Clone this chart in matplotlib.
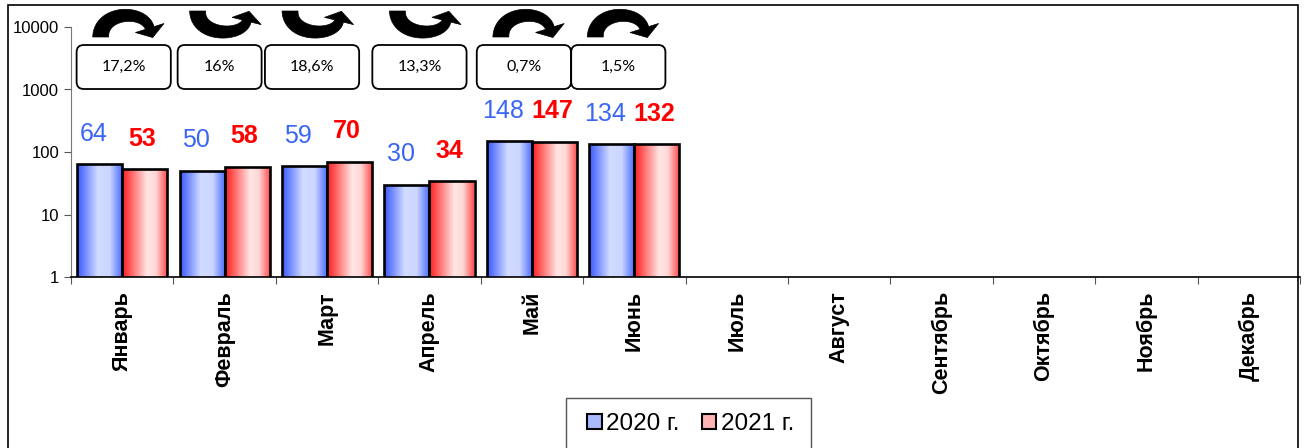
import numpy as np
import matplotlib
matplotlib.use('Agg')
import matplotlib.pyplot as plt
from matplotlib.colors import LinearSegmentedColormap
from matplotlib.patches import FancyBboxPatch, Patch, Rectangle, Polygon
from matplotlib.transforms import IdentityTransform
from matplotlib.ticker import NullLocator

plt.rcParams['font.family'] = ['Liberation Sans', 'DejaVu Sans']

# Данные
months = ['Январь', 'Февраль', 'Март', 'Апрель', 'Май', 'Июнь',
          'Июль', 'Август', 'Сентябрь', 'Октябрь', 'Ноябрь', 'Декабрь']
vals_2020 = [64, 50, 59, 30, 148, 134]
vals_2021 = [53, 58, 70, 34, 147, 132]
changes = ['17,2%', '16%', '18,6%', '13,3%', '0,7%', '1,5%']
series_names = ['2020 г.', '2021 г.']

# сдвиг рамок относительно центра месяца (px), как в исходнике
box_nudge = [1.5, -5, -15, -10, -8, -16]

W, H = 1306, 448

# Градиенты заливки столбцов
blue_cmap = LinearSegmentedColormap.from_list('b', [
    (0.0, (0.24, 0.36, 1.0)), (0.45, (0.82, 0.86, 1.0)),
    (0.72, (0.80, 0.84, 1.0)), (1.0, (0.30, 0.43, 1.0))])
red_cmap = LinearSegmentedColormap.from_list('r', [
    (0.0, (1.0, 0.13, 0.13)), (0.55, (1.0, 0.90, 0.90)),
    (0.75, (1.0, 0.84, 0.84)), (1.0, (1.0, 0.30, 0.30))])
grad = np.linspace(0, 1, 64).reshape(1, -1)

fig = plt.figure(figsize=(W / 100, H / 100), dpi=100)
ax = fig.add_axes([71 / W, 1 - 277 / H, 1229 / W, 250 / H])
ax.set_yscale('log')

w = 0.44
x = np.arange(len(vals_2020))
for xs, vals, cmap in [(x - w / 2, vals_2020, blue_cmap), (x + w / 2, vals_2021, red_cmap)]:
    bars = ax.bar(xs, vals, width=w, bottom=0, facecolor='none', edgecolor='black',
                  linewidth=1.9, zorder=3)
    for b in bars:
        im = ax.imshow(grad, cmap=cmap, aspect='auto', zorder=2,
                       extent=[b.get_x(), b.get_x() + b.get_width(), 1, b.get_height()])
        im.set_clip_path(b)

# Подписи значений
for i in range(len(vals_2020)):
    ax.annotate(str(vals_2020[i]), (x[i] - w / 2, vals_2020[i]), xytext=(-4.5, 22),
                textcoords='offset points', ha='center', va='center',
                fontsize=18, color='#3A66F5', zorder=5)
    ax.annotate(str(vals_2021[i]), (x[i] + w / 2, vals_2021[i]), xytext=(-1.8, 22),
                textcoords='offset points', ha='center', va='center',
                fontsize=18, fontweight='bold', color='#FF0000', zorder=5)

# Оси
ax.set_xlim(-0.5, len(months) - 0.5)
ax.set_ylim(1, 10000)
ax.set_xticks(np.arange(len(months) + 1) - 0.5)
ax.set_xticklabels([])
ax.set_xticks(np.arange(len(months)), minor=True)
ax.set_xticklabels(months, minor=True, rotation=90, fontsize=15.5, fontweight='bold')
ax.tick_params(axis='x', which='major', length=5, color='#555555')
ax.tick_params(axis='x', which='minor', length=0, pad=10)
ax.set_yticks([1, 10, 100, 1000, 10000])
ax.set_yticklabels(['1', '10', '100', '1000', '10000'])
ax.yaxis.set_minor_locator(NullLocator())
ax.tick_params(axis='y', length=5, labelsize=12, color='#555555')
ax.spines[['top', 'right']].set_visible(False)
ax.spines['left'].set_color('#777777')
ax.spines['bottom'].set_color('black')
ax.spines['bottom'].set_linewidth(1.2)


def curved_arrow(cx, pts, h0=8, h1=4.5, hw=15, hl=10):
    # толстая изогнутая стрелка (кубическая Безье), координаты в пикселях картинки
    P = np.array(pts, float)
    P[:, 0] += cx
    P[:, 1] = H - P[:, 1]
    t = np.linspace(0, 1, 60)[:, None]
    B = (1 - t) ** 3 * P[0] + 3 * (1 - t) ** 2 * t * P[1] + 3 * (1 - t) * t ** 2 * P[2] + t ** 3 * P[3]
    dB = 3 * (1 - t) ** 2 * (P[1] - P[0]) + 6 * (1 - t) * t * (P[2] - P[1]) + 3 * t ** 2 * (P[3] - P[2])
    T = dB / np.linalg.norm(dB, axis=1)[:, None]
    N = np.column_stack([-T[:, 1], T[:, 0]])
    hh = h0 + (h1 - h0) * t
    left, right = B + N * hh, B - N * hh
    E, Te, Ne = B[-1], T[-1], N[-1]
    head = np.array([E + Ne * hw, E + Te * hl, E - Ne * hw])
    poly = np.vstack([left, head, right[::-1]])
    return Polygon(poly, closed=True, transform=IdentityTransform(),
                   facecolor='black', edgecolor='black', lw=0.5, zorder=10)


arch = [(-28, 37), (-28, 11), (15, 9), (21, 28)]    # снижение
u_turn = [(-27, 11), (-27, 37), (18, 37), (22, 21)]  # рост

# Стрелки и рамки с процентами
trans = ax.get_xaxis_transform()
for i in range(len(changes)):
    cpx = ax.transData.transform((i, 1))[0] + box_nudge[i]
    shape = arch if vals_2021[i] < vals_2020[i] else u_turn
    fig.add_artist(curved_arrow(cpx + 5, shape))

    bw = 0.92 if ',' in changes[i] else 0.82
    cx = i + box_nudge[i] / 102.4
    box = FancyBboxPatch((cx - bw / 2, 0.752), bw, 0.176,
                         boxstyle='round,pad=0,rounding_size=0.07', mutation_aspect=0.41,
                         transform=trans, facecolor='white', edgecolor='black',
                         linewidth=1.3, clip_on=False, zorder=6)
    ax.add_patch(box)
    ax.text(cx, 0.84, changes[i], transform=trans, ha='center', va='center',
            fontsize=11.5, family=['Lato', 'DejaVu Sans'], zorder=7)

# Легенда
handles = [Patch(facecolor='#A9B9FF', edgecolor='black', linewidth=1.5),
           Patch(facecolor='#FFB3B3', edgecolor='black', linewidth=1.5)]
leg = fig.legend(handles, series_names, loc='center left', ncol=2,
                 bbox_to_anchor=(587 / W, 1 - 424 / H), borderaxespad=0,
                 fontsize=17.5, frameon=False, borderpad=0,
                 handlelength=0.6, handleheight=0.6, handletextpad=0.2,
                 columnspacing=0.9)
fig.patches.append(Rectangle((566 / W, -0.02), 245 / W, 0.02 + 1 - 398 / H,
                             transform=fig.transFigure, fill=False,
                             edgecolor='#555555', linewidth=1.0))

# Внешняя рамка
fig.patches.append(Rectangle((8 / W, -0.02), 1290 / W, 1.02 - 5.5 / H,
                             transform=fig.transFigure, fill=False,
                             edgecolor='black', linewidth=1.2))

fig.savefig('out.png', dpi=100)
